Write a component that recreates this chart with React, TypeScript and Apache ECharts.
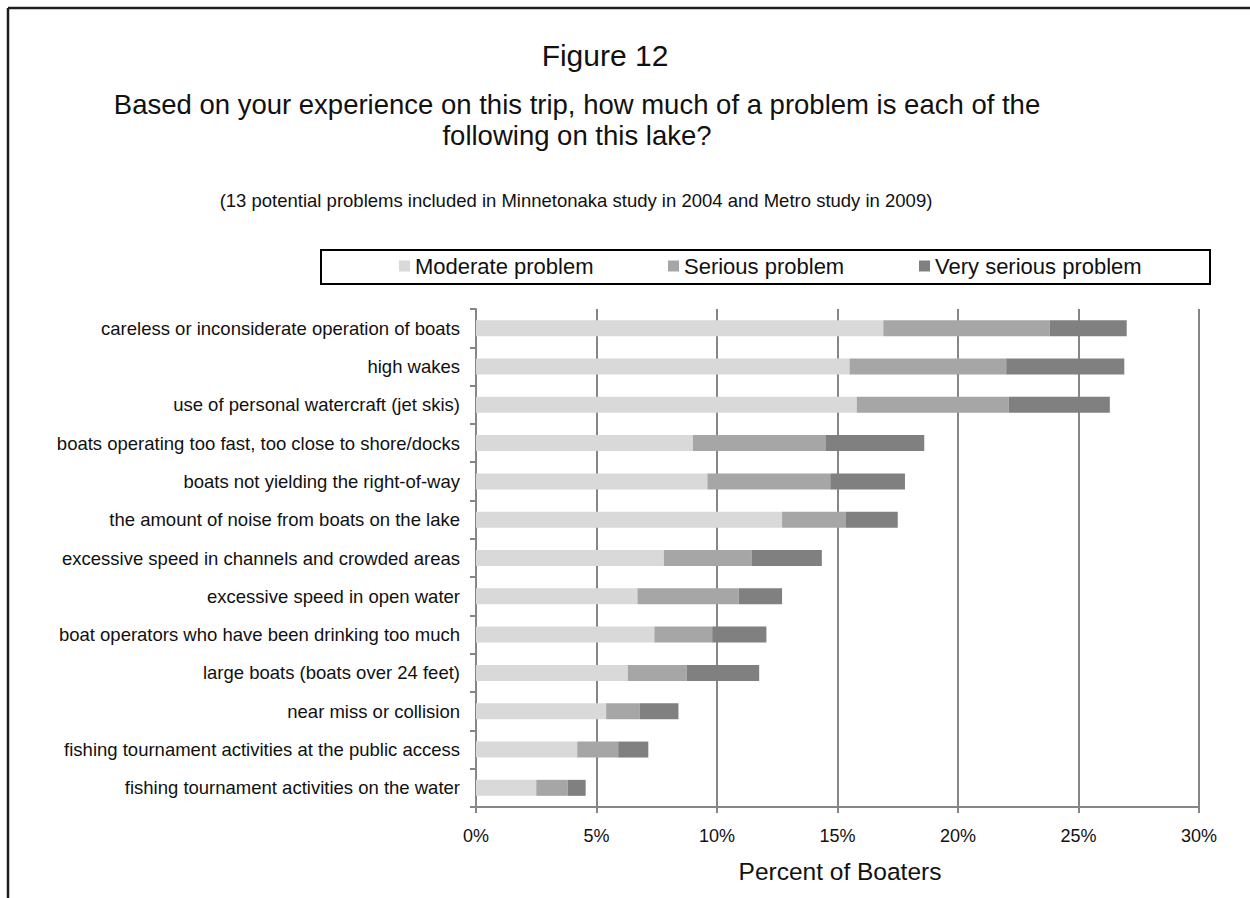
import React, { useEffect, useRef } from "react";
import * as echarts from "echarts";

const categories = [
  "careless or inconsiderate operation of boats",
  "high wakes",
  "use of personal watercraft (jet skis)",
  "boats operating too fast, too close to shore/docks",
  "boats not yielding the right-of-way",
  "the amount of noise from boats on the lake",
  "excessive speed in channels and crowded areas",
  "excessive speed in open water",
  "boat operators who have been drinking too much",
  "large boats (boats over 24 feet)",
  "near miss or collision",
  "fishing tournament activities at the public access",
  "fishing tournament activities on the water",
];

const moderate = [16.9, 15.5, 15.8, 9.0, 9.6, 12.7, 7.8, 6.7, 7.4, 6.3, 5.4, 4.2, 2.5];
const serious = [6.9, 6.5, 6.3, 5.5, 5.1, 2.65, 3.65, 4.2, 2.4, 2.45, 1.4, 1.7, 1.3];
const verySerious = [3.2, 4.9, 4.2, 4.1, 3.1, 2.15, 2.9, 1.8, 2.25, 3.0, 1.6, 1.25, 0.75];

const seriesNames = ["Moderate problem", "Serious problem", "Very serious problem"];
const seriesColors = ["#d9d9d9", "#a6a6a6", "#808080"];

const xTicks = { min: 0, max: 30, interval: 5 };

const titleText = "Figure 12";
const subtitleLines = [
  "Based on your experience on this trip, how much of a problem is each of the",
  "following on this lake?",
];
const noteText = "(13 potential problems included in Minnetonaka study in 2004 and Metro study in 2009)";
const xAxisTitle = "Percent of Boaters";

const FONT = "'Liberation Sans', Arial, sans-serif";
const GRIDC = "#868686";

export default function App() {
  const ref = useRef<HTMLDivElement>(null);
  useEffect(() => {
    if (!ref.current) return;
    const chart = echarts.init(ref.current, undefined, { renderer: "svg" });
    const data = [moderate, serious, verySerious];
    const legendLefts = [399, 668, 919];
    chart.setOption({
      animation: false,
      backgroundColor: "#ffffff",
      textStyle: { fontFamily: FONT },
      grid: { left: 476, right: 51, top: 309, bottom: 91, containLabel: false },
      legend: seriesNames.map((n, i) => ({
        data: [n],
        left: legendLefts[i],
        top: 255,
        padding: 0,
        itemWidth: 11,
        itemHeight: 11,
        icon: "rect",
        selectedMode: false,
        textStyle: { fontSize: 22, color: "#111", fontFamily: FONT },
      })),
      xAxis: {
        type: "value",
        min: xTicks.min,
        max: xTicks.max,
        interval: xTicks.interval,
        axisLine: { show: true, lineStyle: { color: GRIDC, width: 2 } },
        axisTick: { show: true, length: 6, lineStyle: { color: GRIDC, width: 2 } },
        splitLine: { show: true, lineStyle: { color: GRIDC, width: 2 } },
        axisLabel: {
          formatter: "{value}%",
          fontSize: 18,
          color: "#111",
          margin: 20,
          fontFamily: FONT,
        },
      },
      yAxis: {
        type: "category",
        data: categories,
        inverse: true,
        axisLine: { show: true, lineStyle: { color: GRIDC, width: 2 } },
        axisTick: { show: true, length: 6, lineStyle: { color: GRIDC, width: 2 } },
        axisLabel: { fontSize: 18.5, color: "#111", margin: 16, fontFamily: FONT },
      },
      series: seriesNames.map((n, i) => ({
        name: n,
        type: "bar",
        stack: "total",
        barWidth: 16,
        data: data[i],
        itemStyle: { color: seriesColors[i] },
      })),
      graphic: [
        {
          type: "line",
          shape: { x1: 8, y1: 8, x2: 1250, y2: 8 },
          style: { stroke: "#1e1e1e", lineWidth: 2.5 },
        },
        {
          type: "line",
          shape: { x1: 8, y1: 8, x2: 8, y2: 898 },
          style: { stroke: "#1e1e1e", lineWidth: 2.5 },
        },
        {
          type: "rect",
          shape: { x: 321, y: 250, width: 889, height: 34 },
          style: { fill: "none", stroke: "#000", lineWidth: 2 },
        },
        {
          type: "text",
          x: 605,
          y: 55,
          style: {
            text: titleText,
            fontSize: 30,
            fontFamily: FONT,
            fill: "#111",
            align: "center",
            verticalAlign: "middle",
          },
        },
        ...subtitleLines.map((t, i) => ({
          type: "text",
          x: 577,
          y: 104 + i * 31,
          style: {
            text: t,
            fontSize: 27.5,
            fontFamily: FONT,
            fill: "#111",
            align: "center",
            verticalAlign: "middle",
          },
        })),
        {
          type: "text",
          x: 576,
          y: 200,
          style: {
            text: noteText,
            fontSize: 18.5,
            fontFamily: FONT,
            fill: "#111",
            align: "center",
            verticalAlign: "middle",
          },
        },
        {
          type: "text",
          x: 840,
          y: 871,
          style: {
            text: xAxisTitle,
            fontSize: 24.5,
            fontFamily: FONT,
            fill: "#111",
            align: "center",
            verticalAlign: "middle",
          },
        },
      ],
    });
    return () => chart.dispose();
  }, []);
  return (
    <div
      ref={ref}
      style={{ position: "fixed", left: 0, top: 0, width: 1250, height: 898 }}
    />
  );
}
